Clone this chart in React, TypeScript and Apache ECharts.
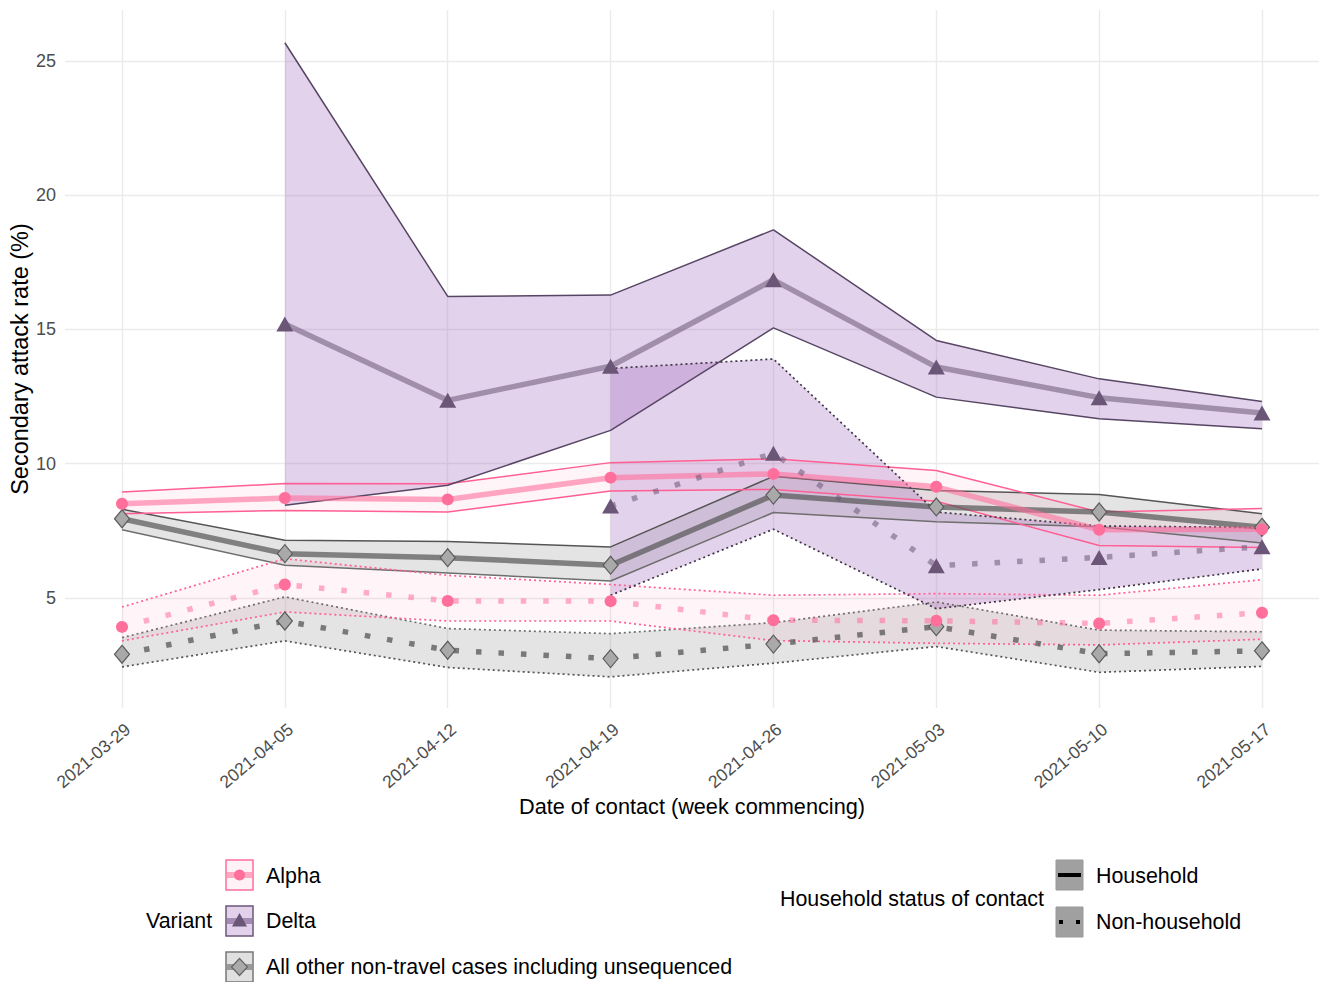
import React, { useEffect, useRef } from 'react';
import * as echarts from 'echarts';

const dates = ['2021-03-29', '2021-04-05', '2021-04-12', '2021-04-19', '2021-04-26', '2021-05-03', '2021-05-10', '2021-05-17'];
const yTicks = [5, 10, 15, 20, 25];

// Alpha
const alphaHH = [8.51, 8.72, 8.67, 9.48, 9.62, 9.14, 7.54, 7.56];
const alphaHHLo = [8.14, 8.26, 8.2, 8.98, 9.04, 8.6, 6.95, 6.88];
const alphaHHHi = [8.95, 9.26, 9.25, 10.04, 10.18, 9.75, 8.2, 8.33];
const alphaNH = [3.92, 5.5, 4.89, 4.88, 4.17, 4.15, 4.05, 4.45];
const alphaNHLo = [3.4, 4.48, 4.14, 4.14, 3.41, 3.31, 3.25, 3.46];
const alphaNHHi = [4.66, 6.46, 5.84, 5.5, 5.1, 5.16, 5.1, 5.68];

// Delta
const deltaHH = [null, 15.2, 12.36, 13.63, 16.85, 13.6, 12.46, 11.89];
const deltaHHLo = [null, 8.45, 9.2, 11.24, 15.06, 12.48, 11.67, 11.3];
const deltaHHHi = [null, 25.68, 16.23, 16.28, 18.71, 14.59, 13.16, 12.32];
const deltaNH = [null, null, null, 8.42, 10.39, 6.2, 6.51, 6.91];
const deltaNHLo = [null, null, null, 5.1, 7.56, 4.6, 5.31, 6.08];
const deltaNHHi = [null, null, null, 13.55, 13.9, 8.2, 7.68, 7.62];

// All other non-travel cases
const otherHH = [7.95, 6.65, 6.5, 6.22, 8.83, 8.39, 8.2, 7.63];
const otherHHLo = [7.54, 6.22, 5.93, 5.63, 8.18, 7.84, 7.65, 7.05];
const otherHHHi = [8.3, 7.15, 7.1, 6.9, 9.53, 9.0, 8.85, 8.14];
const otherNH = [2.9, 4.14, 3.05, 2.74, 3.28, 3.93, 2.92, 3.03];
const otherNHLo = [2.43, 3.4, 2.41, 2.06, 2.57, 3.19, 2.23, 2.45];
const otherNHHi = [3.52, 5.04, 3.86, 3.67, 4.08, 4.85, 3.8, 3.74];

const FONT = '"Liberation Sans", Arial, Helvetica, sans-serif';

type Arr = (number | null)[];

const toPts = (arr: Arr) =>
  arr.map((v, i) => (v == null ? null : [i, v])).filter((p) => p !== null);

function band(lo: Arr, hi: Arr, fill: string) {
  const idx = lo.map((_, i) => i).filter((i) => lo[i] != null && hi[i] != null);
  return {
    type: 'custom',
    coordinateSystem: 'cartesian2d',
    silent: true,
    data: idx.map((i) => [i, lo[i], hi[i]]),
    encode: { x: 0, y: [1, 2] },
    renderItem: (params: any, api: any) => {
      if (params.dataIndex !== 0) return null;
      const top = idx.map((i) => api.coord([i, hi[i]]));
      const bot = idx
        .slice()
        .reverse()
        .map((i) => api.coord([i, lo[i]]));
      return {
        type: 'polygon',
        shape: { points: top.concat(bot) },
        style: { fill, stroke: null },
      };
    },
  };
}

function bound(arr: Arr, color: string, dotted: boolean) {
  return {
    type: 'line',
    data: toPts(arr),
    symbol: 'none',
    silent: true,
    lineStyle: { color, width: dotted ? 1.7 : 1.5, type: dotted ? [2, 3] : 'solid' },
  };
}

function central(
  arr: Arr,
  lineColor: string,
  opacity: number,
  dotted: boolean,
  symbol: string,
  symbolSize: any,
  itemColor: string,
  itemBorder?: string
) {
  return {
    type: 'line',
    z: 3,
    data: toPts(arr),
    symbol,
    symbolSize,
    showSymbol: true,
    silent: true,
    lineStyle: {
      color: lineColor,
      opacity,
      width: 5.5,
      type: dotted ? [5.5, 17] : 'solid',
      cap: 'butt',
    },
    itemStyle: {
      color: itemColor,
      borderColor: itemBorder || itemColor,
      borderWidth: itemBorder ? 1.2 : 0,
      opacity: 1,
    },
  };
}

const ALPHA = '#ff6f9c';
const ALPHA_LINE = '#ff5f92';
const ALPHA_FILL = 'rgba(255,105,150,0.07)';
const DELTA = '#6b5677';
const DELTA_LINE = '#574663';
const DELTA_FILL = 'rgba(155,95,185,0.28)';
const OTHER_LINE = '#555555';
const OTHER_FILL = 'rgba(120,120,120,0.2)';

function txt(text: string, x: number, y: number) {
  return {
    type: 'text',
    x,
    y,
    style: { text, fill: '#000', font: `21.4px ${FONT}`, verticalAlign: 'middle', align: 'left' },
  };
}

function buildOption() {
  const legend: any[] = [
    txt('Variant', 146, 921),
    // Alpha key
    { type: 'rect', shape: { x: 226, y: 860, width: 27, height: 30 }, style: { fill: '#fff2f6', stroke: ALPHA, lineWidth: 1.5 } },
    { type: 'line', shape: { x1: 227, y1: 875, x2: 252, y2: 875 }, style: { stroke: '#ffa8c2', lineWidth: 6 } },
    { type: 'circle', shape: { cx: 239.5, cy: 875, r: 5.5 }, style: { fill: ALPHA } },
    txt('Alpha', 266, 876),
    // Delta key
    { type: 'rect', shape: { x: 226, y: 906, width: 27, height: 30 }, style: { fill: '#e3d1ec', stroke: DELTA, lineWidth: 1.5 } },
    { type: 'line', shape: { x1: 227, y1: 921, x2: 252, y2: 921 }, style: { stroke: '#a48bb3', lineWidth: 6 } },
    { type: 'polygon', shape: { points: [[239.5, 913], [247, 926.5], [232, 926.5]] }, style: { fill: DELTA } },
    txt('Delta', 266, 921),
    // Other key
    { type: 'rect', shape: { x: 226, y: 952, width: 27, height: 30 }, style: { fill: '#e0e0e0', stroke: '#777', lineWidth: 1.5 } },
    { type: 'line', shape: { x1: 227, y1: 967, x2: 252, y2: 967 }, style: { stroke: '#9a9a9a', lineWidth: 6 } },
    { type: 'polygon', shape: { points: [[239.5, 958.5], [247.5, 967], [239.5, 975.5], [231.5, 967]] }, style: { fill: '#aaaaaa', stroke: '#666', lineWidth: 1.2 } },
    txt('All other non-travel cases including unsequenced', 266, 967),
    // Household status
    txt('Household status of contact', 780, 899),
    { type: 'rect', shape: { x: 1056, y: 860, width: 27, height: 30 }, style: { fill: '#a0a0a0', stroke: '#999', lineWidth: 1 } },
    { type: 'line', shape: { x1: 1058, y1: 875, x2: 1081, y2: 875 }, style: { stroke: '#000', lineWidth: 4 } },
    txt('Household', 1096, 876),
    { type: 'rect', shape: { x: 1056, y: 907, width: 27, height: 30 }, style: { fill: '#a0a0a0', stroke: '#999', lineWidth: 1 } },
    { type: 'rect', shape: { x: 1059, y: 920, width: 4, height: 4 }, style: { fill: '#000' } },
    { type: 'rect', shape: { x: 1076, y: 920, width: 4, height: 4 }, style: { fill: '#000' } },
    txt('Non-household', 1096, 922),
  ];

  return {
    animation: false,
    backgroundColor: '#ffffff',
    grid: { left: 65, right: 0, top: 10, bottom: 274, outerBoundsMode: 'none' },
    xAxis: {
      type: 'value',
      min: -0.35,
      max: 7.35,
      name: 'Date of contact (week commencing)',
      nameLocation: 'middle',
      nameGap: 87,
      nameMoveOverlap: false,
      nameTextStyle: { color: '#000', fontSize: 21.7, fontFamily: FONT },
      axisLine: { show: false },
      axisTick: { show: false, customValues: dates.map((_, i) => i) },
      axisLabel: {
        customValues: dates.map((_, i) => i),
        formatter: (v: number) => dates[Math.round(v)] ?? '',
        rotate: 40,
        align: 'right',
        verticalAlign: 'top',
        margin: 12,
        color: '#4d4d4d',
        fontSize: 17.5,
        fontFamily: FONT,
      },
      splitLine: { show: true, lineStyle: { color: '#ebebeb', width: 1.4 } },
    },
    yAxis: {
      type: 'value',
      min: 0.9,
      max: 26.9,
      name: 'Secondary attack rate (%)',
      nameLocation: 'middle',
      nameRotate: 90,
      nameGap: 33,
      nameMoveOverlap: false,
      nameTextStyle: { color: '#000', fontSize: 23.5, fontFamily: FONT },
      axisLine: { show: false },
      axisTick: { show: false, customValues: yTicks },
      axisLabel: { customValues: yTicks, color: '#4d4d4d', fontSize: 18, fontFamily: FONT, margin: 9 },
      splitLine: { show: true, lineStyle: { color: '#ebebeb', width: 1.4 } },
    },
    graphic: legend,
    series: [
      // ribbons with bounds, in drawing order
      band(otherHHLo, otherHHHi, OTHER_FILL),
      bound(otherHHLo, '#6e6e6e', false),
      bound(otherHHHi, OTHER_LINE, false),
      band(otherNHLo, otherNHHi, OTHER_FILL),
      bound(otherNHLo, OTHER_LINE, true),
      bound(otherNHHi, '#6e6e6e', true),
      band(alphaHHLo, alphaHHHi, ALPHA_FILL),
      bound(alphaHHLo, ALPHA_LINE, false),
      bound(alphaHHHi, ALPHA_LINE, false),
      band(alphaNHLo, alphaNHHi, ALPHA_FILL),
      bound(alphaNHLo, ALPHA_LINE, true),
      bound(alphaNHHi, ALPHA_LINE, true),
      band(deltaHHLo, deltaHHHi, DELTA_FILL),
      bound(deltaHHLo, DELTA_LINE, false),
      bound(deltaHHHi, DELTA_LINE, false),
      band(deltaNHLo, deltaNHHi, DELTA_FILL),
      bound(deltaNHLo, '#3f3546', true),
      bound(deltaNHHi, '#3f3546', true),
      // central estimates
      central(otherHH, '#555555', 0.7, false, 'diamond', [15, 18], '#a9a9a9', '#5a5a5a'),
      central(otherNH, '#555555', 0.75, true, 'diamond', [15, 18], '#a9a9a9', '#5a5a5a'),
      central(alphaHH, ALPHA, 0.6, false, 'circle', 12, ALPHA),
      central(alphaNH, ALPHA, 0.55, true, 'circle', 12, ALPHA),
      central(deltaHH, DELTA, 0.55, false, 'triangle', [17, 15], DELTA),
      central(deltaNH, DELTA, 0.55, true, 'triangle', [17, 15], DELTA),
    ],
  };
}

export default function App() {
  const ref = useRef<HTMLDivElement>(null);
  useEffect(() => {
    if (!ref.current) return;
    const chart = echarts.init(ref.current, null, { renderer: 'svg' });
    chart.setOption(buildOption() as any);
    return () => chart.dispose();
  }, []);
  return (
    <div
      ref={ref}
      style={{ position: 'fixed', left: 0, top: 0, width: 1319, height: 982, background: '#fff' }}
    />
  );
}
